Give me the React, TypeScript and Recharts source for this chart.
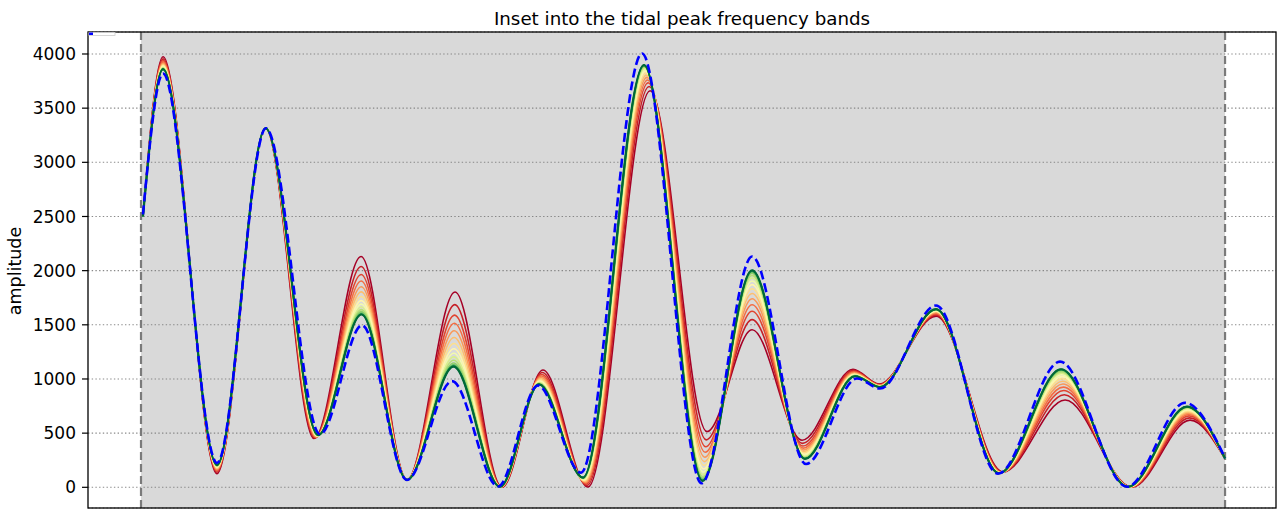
import React from 'react';
import { LineChart, Line, XAxis, YAxis, CartesianGrid, ReferenceArea, ReferenceLine } from 'recharts';

const W = 1285;
const H = 510;

// Feature positions (extrema) along the frequency inset, 0..100 = band start..band end
const featureXRed = [0.18, 2.03, 7.01, 11.49, 15.96, 20.3, 24.54, 28.97, 33.3, 37.08, 41.24, 46.96, 52.21, 56.37, 60.98, 65.68, 68.08, 73.34, 79.52, 85.24, 91.42, 96.77, 100];
const featureXGreen = [0.18, 2.03, 7.01, 11.49, 16.33, 20.34, 24.54, 28.83, 33.12, 36.72, 40.77, 46.4, 51.8, 56.37, 61.25, 65.87, 68.17, 73.34, 79.15, 84.87, 91.05, 96.49, 100];
const blueX = [0.18, 2.03, 7.01, 11.53, 16.51, 20.39, 24.54, 28.69, 32.93, 36.62, 40.59, 46.22, 51.71, 56.37, 61.35, 66.05, 68.17, 73.34, 79.06, 84.78, 90.96, 96.31, 100];
const blueAmp = [2520, 3820, 225, 3315, 490, 1495, 68, 980, 8, 940, 135, 4005, 38, 2130, 215, 1005, 912, 1678, 125, 1160, 5, 780, 270];

// position weight of each fan member between the red and green extremes
const fanWeight = [0, 0.17, 0.31, 0.42, 0.52, 0.61, 0.69, 0.76, 0.82, 0.87, 0.915, 0.95, 0.975, 0.99, 0.997, 1];

const fan00 = [2500, 3975, 125, 3315, 450, 2130, 70, 1803, 0, 1083, 3, 3660, 515, 1455, 435, 1090, 954, 1580, 142, 806, 0, 620, 266];
const fan01 = [2500, 3955, 139, 3315, 455, 2039, 70, 1686, 1, 1060, 18, 3700, 438, 1548, 406, 1079, 949, 1591, 140, 854, 1, 641, 266];
const fan02 = [2500, 3939, 150, 3315, 460, 1964, 70, 1589, 2, 1042, 30, 3734, 374, 1625, 381, 1070, 945, 1600, 138, 894, 2, 659, 266];
const fan03 = [2500, 3927, 159, 3315, 463, 1905, 70, 1514, 2, 1027, 40, 3760, 324, 1685, 362, 1063, 942, 1607, 137, 925, 2, 673, 266];
const fan04 = [2500, 3915, 167, 3315, 467, 1852, 70, 1445, 3, 1014, 48, 3784, 278, 1740, 345, 1056, 939, 1614, 136, 954, 3, 685, 266];
const fan05 = [2500, 3905, 174, 3315, 470, 1804, 70, 1383, 3, 1002, 56, 3805, 237, 1789, 329, 1050, 936, 1620, 135, 979, 3, 696, 266];
const fan06 = [2500, 3896, 180, 3315, 472, 1761, 70, 1328, 3, 991, 63, 3824, 201, 1833, 316, 1045, 934, 1625, 134, 1002, 3, 706, 266];
const fan07 = [2500, 3888, 186, 3315, 474, 1723, 70, 1279, 4, 982, 69, 3841, 169, 1871, 304, 1041, 932, 1629, 133, 1022, 4, 715, 266];
const fan08 = [2500, 3881, 191, 3315, 476, 1691, 70, 1238, 4, 974, 74, 3855, 142, 1904, 293, 1037, 930, 1633, 132, 1039, 4, 723, 266];
const fan09 = [2500, 3875, 195, 3315, 478, 1665, 70, 1204, 4, 967, 79, 3867, 119, 1932, 285, 1033, 929, 1637, 132, 1053, 4, 729, 266];
const fan10 = [2500, 3870, 198, 3315, 479, 1640, 70, 1173, 5, 961, 83, 3878, 99, 1956, 277, 1031, 927, 1639, 131, 1066, 5, 734, 266];
const fan11 = [2500, 3866, 201, 3315, 480, 1622, 70, 1148, 5, 957, 86, 3886, 83, 1976, 271, 1028, 926, 1642, 131, 1076, 5, 739, 266];
const fan12 = [2500, 3863, 203, 3315, 481, 1608, 70, 1131, 5, 953, 88, 3892, 71, 1989, 266, 1027, 926, 1643, 130, 1083, 5, 742, 266];
const fan13 = [2500, 3861, 204, 3315, 482, 1600, 70, 1121, 5, 951, 89, 3896, 65, 1998, 264, 1026, 925, 1644, 130, 1087, 5, 744, 266];
const fan14 = [2500, 3860, 205, 3315, 482, 1597, 70, 1116, 5, 950, 90, 3897, 61, 2001, 263, 1025, 925, 1645, 130, 1089, 5, 745, 266];
const fan15 = [2500, 3860, 205, 3315, 482, 1595, 70, 1114, 5, 950, 90, 3898, 60, 2003, 262, 1025, 925, 1645, 130, 1090, 5, 745, 266];

const fanAmps = [fan00, fan01, fan02, fan03, fan04, fan05, fan06, fan07, fan08, fan09, fan10, fan11, fan12, fan13, fan14, fan15];

const fanColors = ['#a50026', '#c62027', '#e14430', '#f46d43', '#fa9857', '#fdbf6f', '#fee08b', '#fff5ae', '#f2faae', '#d9ef8b', '#b7e075', '#91d068', '#66bd63', '#33a456', '#118848', '#006837'];

const yTicks = [0, 500, 1000, 1500, 2000, 2500, 3000, 3500, 4000];
const bandStart = 0;
const bandEnd = 100;

const FONT = 'DejaVu Sans, sans-serif';

function fanSeries(i: number) {
  return fanAmps[i].map((y, k) => ({
    x: featureXRed[k] + (featureXGreen[k] - featureXRed[k]) * fanWeight[i],
    y,
  }));
}

const blueSeries = blueX.map((x, k) => ({ x, y: blueAmp[k] }));

export default function App() {
  return (
    <div style={{ position: 'absolute', left: 0, top: 0, width: W, height: H, background: '#fff', fontFamily: FONT }}>
      <LineChart width={W} height={H} margin={{ top: 32, right: 9, bottom: 2, left: 0 }}>
        <CartesianGrid vertical={false} stroke="#8a8a8a" strokeDasharray="1.4 2.3" strokeWidth={1.1} />
        <XAxis type="number" dataKey="x" domain={[-4.89, 104.7]} allowDataOverflow hide />
        <YAxis
          type="number"
          domain={[-191, 4203]}
          allowDataOverflow
          ticks={yTicks}
          interval={0}
          width={88}
          axisLine={false}
          tickLine={{ stroke: '#000', strokeWidth: 1.2 }}
          tickSize={6}
          tickMargin={6}
          tick={{ fontSize: 17, fill: '#000', fontFamily: FONT }}
        />
        <ReferenceArea x1={bandStart} x2={bandEnd} fill="#808080" fillOpacity={0.3} stroke="none" ifOverflow="extendDomain" />
        <ReferenceLine x={bandStart} stroke="#7a7a7a" strokeWidth={2.2} strokeDasharray="8 4" />
        <ReferenceLine x={bandEnd} stroke="#7a7a7a" strokeWidth={2.2} strokeDasharray="8 4" />
        {fanAmps.map((_, i) => (
          <Line
            key={'fan' + i}
            data={fanSeries(i)}
            dataKey="y"
            type="monotone"
            dot={false}
            activeDot={false}
            stroke={fanColors[i]}
            strokeWidth={i === fanAmps.length - 1 ? 2.2 : 1.6}
            isAnimationActive={false}
          />
        ))}
        <Line
          data={blueSeries}
          dataKey="y"
          type="monotone"
          dot={false}
          activeDot={false}
          stroke="#0000ff"
          strokeWidth={2.6}
          strokeDasharray="9 4"
          isAnimationActive={false}
        />
      </LineChart>
      <svg width={W} height={H} style={{ position: 'absolute', left: 0, top: 0, pointerEvents: 'none' }}>
        <rect x={88} y={32} width={1188} height={476} fill="none" stroke="#000" strokeWidth={1.3} />
        <rect x={89} y={32.5} width={26} height={3} fill="#fff" stroke="#cccccc" strokeWidth={0.8} />
        <rect x={89} y={32.5} width={4} height={2.5} fill="#0000ff" />
        <text x={682} y={25} textAnchor="middle" fontSize={18.25} fontFamily={FONT} fill="#000">
          Inset into the tidal peak frequency bands
        </text>
        <text x={21} y={271} transform="rotate(-90 21 271)" textAnchor="middle" fontSize={17.5} fontFamily={FONT} fill="#000">
          amplitude
        </text>
      </svg>
    </div>
  );
}
